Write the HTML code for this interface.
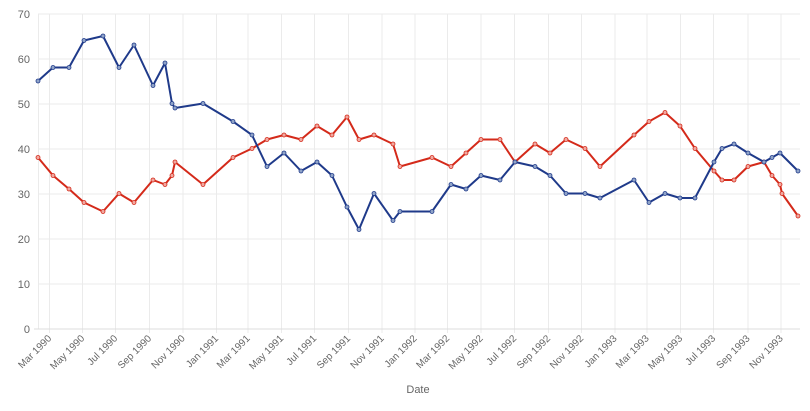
<!DOCTYPE html>
<html><head><meta charset="utf-8"><style>
html,body{margin:0;padding:0;background:#fff;}
svg{display:block;font-family:"Liberation Sans",sans-serif;}
</style></head><body>
<svg width="810" height="411" viewBox="0 0 810 411" xmlns="http://www.w3.org/2000/svg">
<defs>
<marker id="mb" viewBox="0 0 6 6" refX="3" refY="3" markerWidth="6" markerHeight="6" markerUnits="userSpaceOnUse"><circle cx="3" cy="3" r="2" fill="#8fa3c8" stroke="#1f3a8a" stroke-width="0.8"/></marker>
<marker id="mr" viewBox="0 0 6 6" refX="3" refY="3" markerWidth="6" markerHeight="6" markerUnits="userSpaceOnUse"><circle cx="3" cy="3" r="2" fill="#f0a8a0" stroke="#d42a1a" stroke-width="0.8"/></marker>
</defs>
<g stroke="#ebebeb" stroke-width="1">
<line x1="38" y1="14" x2="800" y2="14"/><line x1="38" y1="59" x2="800" y2="59"/><line x1="38" y1="104" x2="800" y2="104"/><line x1="38" y1="149" x2="800" y2="149"/><line x1="38" y1="194" x2="800" y2="194"/><line x1="38" y1="239" x2="800" y2="239"/><line x1="38" y1="284" x2="800" y2="284"/>
<line x1="38.5" y1="14" x2="38.5" y2="329"/>
<line x1="49.5" y1="14" x2="49.5" y2="333"/><line x1="82.5" y1="14" x2="82.5" y2="333"/><line x1="115.5" y1="14" x2="115.5" y2="333"/><line x1="149.5" y1="14" x2="149.5" y2="333"/><line x1="183" y1="14" x2="183" y2="333"/><line x1="216.5" y1="14" x2="216.5" y2="333"/><line x1="248" y1="14" x2="248" y2="333"/><line x1="281.5" y1="14" x2="281.5" y2="333"/><line x1="314.5" y1="14" x2="314.5" y2="333"/><line x1="348.5" y1="14" x2="348.5" y2="333"/><line x1="382" y1="14" x2="382" y2="333"/><line x1="415" y1="14" x2="415" y2="333"/><line x1="447.5" y1="14" x2="447.5" y2="333"/><line x1="481" y1="14" x2="481" y2="333"/><line x1="514.5" y1="14" x2="514.5" y2="333"/><line x1="548.5" y1="14" x2="548.5" y2="333"/><line x1="581.5" y1="14" x2="581.5" y2="333"/><line x1="615" y1="14" x2="615" y2="333"/><line x1="647" y1="14" x2="647" y2="333"/><line x1="680.5" y1="14" x2="680.5" y2="333"/><line x1="713.5" y1="14" x2="713.5" y2="333"/><line x1="748" y1="14" x2="748" y2="333"/><line x1="781" y1="14" x2="781" y2="333"/>
</g>
<line x1="34" y1="329" x2="800" y2="329" stroke="#ddd"/>
<g font-size="11" fill="#666" text-anchor="end">
<text x="30" y="18">70</text><text x="30" y="63">60</text><text x="30" y="108">50</text><text x="30" y="153">40</text><text x="30" y="198">30</text><text x="30" y="243">20</text><text x="30" y="288">10</text><text x="30" y="333">0</text>
</g>
<g font-size="10" fill="#666" text-anchor="end">
<text transform="translate(52,339) rotate(-45)">Mar 1990</text>
<text transform="translate(85,339) rotate(-45)">May 1990</text>
<text transform="translate(118,339) rotate(-45)">Jul 1990</text>
<text transform="translate(152,339) rotate(-45)">Sep 1990</text>
<text transform="translate(185.5,339) rotate(-45)">Nov 1990</text>
<text transform="translate(219,339) rotate(-45)">Jan 1991</text>
<text transform="translate(250.5,339) rotate(-45)">Mar 1991</text>
<text transform="translate(284,339) rotate(-45)">May 1991</text>
<text transform="translate(317,339) rotate(-45)">Jul 1991</text>
<text transform="translate(351,339) rotate(-45)">Sep 1991</text>
<text transform="translate(384.5,339) rotate(-45)">Nov 1991</text>
<text transform="translate(417.5,339) rotate(-45)">Jan 1992</text>
<text transform="translate(450,339) rotate(-45)">Mar 1992</text>
<text transform="translate(483.5,339) rotate(-45)">May 1992</text>
<text transform="translate(517,339) rotate(-45)">Jul 1992</text>
<text transform="translate(551,339) rotate(-45)">Sep 1992</text>
<text transform="translate(584,339) rotate(-45)">Nov 1992</text>
<text transform="translate(617.5,339) rotate(-45)">Jan 1993</text>
<text transform="translate(649.5,339) rotate(-45)">Mar 1993</text>
<text transform="translate(683,339) rotate(-45)">May 1993</text>
<text transform="translate(716,339) rotate(-45)">Jul 1993</text>
<text transform="translate(750.5,339) rotate(-45)">Sep 1993</text>
<text transform="translate(783.5,339) rotate(-45)">Nov 1993</text>
</g>
<text x="418" y="393" font-size="11" fill="#666" text-anchor="middle">Date</text>
<polyline fill="none" stroke="#d42a1a" stroke-width="2" stroke-linejoin="round" marker-start="url(#mr)" marker-mid="url(#mr)" marker-end="url(#mr)" points="38,157.5 53,175.5 69,189 84,202.5 103,211.5 119,193.5 134,202.5 153,180 165,184.5 172,175.5 175,162 203,184.5 233,157.5 252,148.5 267,139.5 284,135 301,139.5 317,126 332,135 347,117 359,139.5 374,135 393,144 400,166.5 432,157.5 451,166.5 466,153 481,139.5 500,139.5 515,162 535,144 550,153 566,139.5 585,148.5 600,166.5 634,135 649,121.5 665,112.5 680,126 695,148.5 714,171 722,180 734,180 748,166.5 764,162 772,175.5 780,184.5 782,193.5 798,216"/>
<polyline fill="none" stroke="#1f3a8a" stroke-width="2" stroke-linejoin="round" marker-start="url(#mb)" marker-mid="url(#mb)" marker-end="url(#mb)" points="38,81 53,67.5 69,67.5 84,40.5 103,36 119,67.5 134,45 153,85.5 165,63 172,103.5 175,108 203,103.5 233,121.5 252,135 267,166.5 284,153 301,171 317,162 332,175.5 347,207 359,229.5 374,193.5 393,220.5 400,211.5 432,211.5 451,184.5 466,189 481,175.5 500,180 515,162 535,166.5 550,175.5 566,193.5 585,193.5 600,198 634,180 649,202.5 665,193.5 680,198 695,198 714,162 722,148.5 734,144 748,153 764,162 772,157.5 780,153 798,171"/>
</svg>
</body></html>
